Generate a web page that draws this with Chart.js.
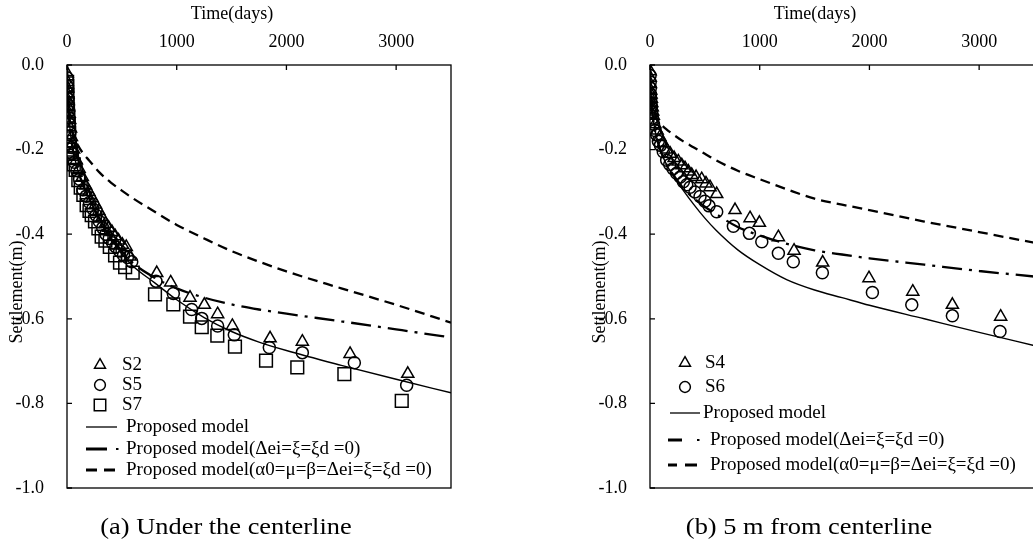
<!DOCTYPE html>
<html>
<head>
<meta charset="utf-8">
<script src="https://cdn.jsdelivr.net/npm/chart.js@4.4.1/dist/chart.umd.min.js"></script>
<style>
  html, body { margin: 0; padding: 0; overflow: hidden; background: #fff; }
  body { width: 1033px; height: 542px; position: relative; }
  canvas { position: absolute; top: 0; }
  .cap { position: absolute; top: 526px; font: 24px "Liberation Serif", "Times New Roman", serif; line-height: 1;
         white-space: nowrap; transform: translate(-50%, -50%) scaleX(1.1); color: #000; }
</style>
</head>
<body>
<canvas id="chart-a" width="520" height="542" style="left:0px"></canvas>
<canvas id="chart-b" width="520" height="542" style="left:583px"></canvas>
<div class="cap" style="left:226px">(a) Under the centerline</div>
<div class="cap" style="left:809px">(b) 5 m from centerline</div>
<script>
const FONT = '"Liberation Serif", "Times New Roman", serif';

// axis ticks
const xTickValues = [0, 1000, 2000, 3000];
const xTickLabels = ['0', '1000', '2000', '3000'];
const yTickValues = [0, -0.2, -0.4, -0.6, -0.8, -1.0];
const yTickLabels = ['0.0', '-0.2', '-0.4', '-0.6', '-0.8', '-1.0'];

// (a) under the centerline - measured
const s2Days = [1, 3, 5, 8, 11, 15, 20, 25, 32, 40, 50, 60, 85, 110, 140, 170, 200, 230, 260, 290, 320, 350, 380, 410, 440, 470, 505, 540, 575, 818, 945, 1121, 1252, 1373, 1507, 1851, 2145, 2580, 3106];
const s2Settle = [-0.02, -0.04, -0.055, -0.07, -0.085, -0.10, -0.115, -0.13, -0.15, -0.17, -0.185, -0.20, -0.225, -0.245, -0.265, -0.285, -0.30, -0.315, -0.33, -0.345, -0.36, -0.375, -0.385, -0.395, -0.405, -0.415, -0.425, -0.43, -0.453, -0.492, -0.514, -0.55, -0.567, -0.589, -0.617, -0.646, -0.654, -0.683, -0.73];
const s5Days = [1, 2, 4, 6, 9, 12, 16, 20, 26, 32, 40, 48, 68, 90, 115, 145, 175, 205, 235, 265, 295, 325, 355, 385, 415, 445, 480, 515, 550, 590, 811, 969, 1136, 1228, 1373, 1525, 1844, 2145, 2619, 3096];
const s5Settle = [-0.03, -0.05, -0.065, -0.08, -0.095, -0.11, -0.125, -0.14, -0.16, -0.18, -0.195, -0.21, -0.23, -0.25, -0.27, -0.295, -0.31, -0.325, -0.34, -0.355, -0.37, -0.385, -0.40, -0.41, -0.42, -0.43, -0.44, -0.45, -0.455, -0.465, -0.511, -0.54, -0.578, -0.599, -0.617, -0.638, -0.668, -0.68, -0.704, -0.757];
const s7Days = [1, 2, 4, 6, 9, 12, 16, 20, 27, 35, 45, 62, 79, 103, 125, 149, 179, 205, 225, 255, 286, 316, 350, 390, 438, 483, 530, 599, 802, 969, 1121, 1228, 1370, 1531, 1814, 2099, 2528, 3051];
const s7Settle = [-0.04, -0.05, -0.07, -0.09, -0.105, -0.12, -0.14, -0.16, -0.20, -0.21, -0.22, -0.235, -0.248, -0.272, -0.29, -0.307, -0.331, -0.345, -0.355, -0.37, -0.386, -0.406, -0.415, -0.43, -0.45, -0.467, -0.478, -0.491, -0.542, -0.566, -0.595, -0.62, -0.64, -0.666, -0.699, -0.715, -0.731, -0.794];

// model curves, same day grid for both panels
const modelDays = [0, 3, 10, 25, 50, 100, 150, 200, 300, 400, 500, 600, 800, 1000, 1250, 1500, 1750, 2000, 2500, 3000, 3500];
const aModel = [0, -0.05, -0.09, -0.145, -0.195, -0.25, -0.285, -0.315, -0.365, -0.41, -0.447, -0.475, -0.515, -0.555, -0.597, -0.63, -0.655, -0.675, -0.71, -0.743, -0.775];
const aModelNoDamage = [0, -0.05, -0.09, -0.145, -0.195, -0.25, -0.285, -0.315, -0.365, -0.405, -0.44, -0.468, -0.503, -0.528, -0.55, -0.566, -0.578, -0.588, -0.606, -0.625, -0.644];
const aModelBasic = [0, -0.05, -0.09, -0.13, -0.16, -0.19, -0.21, -0.225, -0.255, -0.278, -0.297, -0.315, -0.347, -0.378, -0.41, -0.44, -0.465, -0.488, -0.528, -0.567, -0.609];

// (b) 5 m from centerline - measured
const s4Days = [1, 2, 4, 6, 9, 12, 16, 20, 25, 30, 45, 65, 90, 120, 150, 185, 220, 258, 290, 319, 350, 380, 420, 471, 510, 547, 608, 775, 912, 997, 1170, 1313, 1574, 1996, 2395, 2756, 3196];
const s4Settle = [-0.015, -0.03, -0.045, -0.06, -0.07, -0.08, -0.09, -0.10, -0.11, -0.12, -0.14, -0.155, -0.17, -0.185, -0.20, -0.21, -0.22, -0.228, -0.237, -0.244, -0.252, -0.26, -0.265, -0.27, -0.28, -0.289, -0.305, -0.343, -0.362, -0.373, -0.407, -0.439, -0.467, -0.504, -0.536, -0.567, -0.595];
const s6Days = [1, 2, 3, 5, 7, 10, 13, 16, 23, 32, 46, 61, 76, 95, 121, 152, 180, 210, 243, 276, 304, 335, 365, 410, 456, 500, 538, 608, 760, 906, 1019, 1170, 1306, 1571, 2027, 2386, 2756, 3190];
const s6Settle = [-0.025, -0.04, -0.055, -0.07, -0.08, -0.09, -0.10, -0.11, -0.125, -0.14, -0.155, -0.165, -0.18, -0.19, -0.205, -0.225, -0.235, -0.245, -0.256, -0.265, -0.276, -0.283, -0.289, -0.30, -0.311, -0.322, -0.333, -0.347, -0.381, -0.398, -0.418, -0.445, -0.465, -0.491, -0.538, -0.567, -0.593, -0.63];

const bModel = [0, -0.04, -0.08, -0.12, -0.16, -0.205, -0.235, -0.257, -0.295, -0.33, -0.362, -0.39, -0.437, -0.472, -0.508, -0.532, -0.55, -0.568, -0.60, -0.632, -0.663];
const bModelNoDamage = [0, -0.04, -0.08, -0.12, -0.16, -0.205, -0.235, -0.255, -0.29, -0.315, -0.335, -0.352, -0.383, -0.403, -0.423, -0.438, -0.448, -0.457, -0.472, -0.487, -0.50];
const bModelBasic = [0, -0.04, -0.07, -0.10, -0.12, -0.14, -0.152, -0.162, -0.18, -0.195, -0.21, -0.225, -0.25, -0.27, -0.294, -0.316, -0.33, -0.343, -0.37, -0.395, -0.42];

const DASHDOT = [20, 7, 3, 7];
const DASHED = [10, 6];

function pts(days, settle) {
  return days.map((d, i) => ({ x: d, y: settle[i] }));
}

function markerSet(label, days, settle, style, r) {
  return {
    label: label, data: pts(days, settle), showLine: false,
    pointStyle: style, pointRadius: r, pointHoverRadius: r,
    pointBorderWidth: 1.5, pointBorderColor: '#000', pointBackgroundColor: 'rgba(0,0,0,0)'
  };
}

function curveSet(label, days, settle, width, dash) {
  return {
    label: label, data: pts(days, settle), showLine: true, pointRadius: 0,
    borderColor: '#000', borderWidth: width, borderDash: dash,
    cubicInterpolationMode: 'monotone', fill: false
  };
}

function drawMarker(ctx, style, x, y, r) {
  ctx.beginPath();
  if (style === 'circle') {
    ctx.arc(x, y, r, 0, Math.PI * 2);
  } else if (style === 'triangle') {
    ctx.moveTo(x, y - r);
    ctx.lineTo(x + r * 0.866, y + r * 0.5);
    ctx.lineTo(x - r * 0.866, y + r * 0.5);
    ctx.closePath();
  } else {
    let h = r * Math.SQRT1_2;
    ctx.rect(x - h, y - h, 2 * h, 2 * h);
  }
  ctx.stroke();
}

// frame, inward ticks, axis titles and the legend inside the plot
const paperFrame = {
  id: 'paperFrame',
  afterDraw(chart, args, o) {
    const ctx = chart.ctx, a = chart.chartArea;
    const xs = chart.scales.x, ys = chart.scales.y;
    ctx.save();
    ctx.strokeStyle = '#000';
    ctx.fillStyle = '#000';
    ctx.lineWidth = 1.3;
    ctx.setLineDash([]);
    ctx.strokeRect(a.left, a.top, a.right - a.left, a.bottom - a.top);
    ctx.beginPath();
    xs.ticks.forEach(t => {
      let p = xs.getPixelForValue(t.value);
      ctx.moveTo(p, a.top); ctx.lineTo(p, a.top + 5);
    });
    ys.ticks.forEach(t => {
      let p = ys.getPixelForValue(t.value);
      ctx.moveTo(a.left, p); ctx.lineTo(a.left + 5, p);
    });
    ctx.stroke();

    ctx.font = '18px ' + FONT;
    ctx.textAlign = 'center';
    ctx.textBaseline = 'middle';
    ctx.fillText(o.xTitle, a.left + 165, 14);
    ctx.save();
    ctx.translate(a.left - 50, 292);
    ctx.rotate(-Math.PI / 2);
    ctx.fillText(o.yTitle, 0, 0);
    ctx.restore();

    // legend
    ctx.font = '19px ' + FONT;
    ctx.textAlign = 'left';
    o.legend.forEach(item => {
      let ds = chart.data.datasets[item.ds];
      ctx.lineWidth = 1.5;
      if (item.segs) {
        item.segs.forEach(sg => {
          ctx.beginPath();
          ctx.lineWidth = sg[2];
          ctx.moveTo(sg[0], item.y); ctx.lineTo(sg[1], item.y);
          ctx.stroke();
        });
      } else {
        drawMarker(ctx, ds.pointStyle, item.x, item.y, ds.pointRadius * 0.9);
      }
      ctx.fillText(ds.label, item.tx, item.y);
    });
    ctx.restore();
  }
};

function makeChart(id, datasets, legend) {
  return new Chart(document.getElementById(id), {
    type: 'scatter',
    data: { datasets: datasets },
    options: {
      responsive: false,
      animation: false,
      devicePixelRatio: 1,
      events: [],
      layout: { autoPadding: false, padding: { left: 0, top: 0, right: 69, bottom: 54 } },
      plugins: {
        legend: { display: false },
        tooltip: { enabled: false },
        paperFrame: { xTitle: 'Time(days)', yTitle: 'Settlement(m)', legend: legend }
      },
      scales: {
        x: {
          type: 'linear', position: 'top', min: 0, max: 3500,
          grid: { display: false, drawTicks: false },
          border: { display: false },
          afterBuildTicks: s => { s.ticks = xTickValues.map(v => ({ value: v })); },
          afterFit: s => { s.height = 65; },
          ticks: { padding: 12, color: '#000', font: { family: FONT, size: 18 }, autoSkip: false, maxRotation: 0,
                   callback: (v, i) => xTickLabels[i] }
        },
        y: {
          type: 'linear', position: 'left', min: -1, max: 0,
          grid: { display: false, drawTicks: false },
          border: { display: false },
          afterBuildTicks: s => { s.ticks = yTickValues.map(v => ({ value: v })); },
          afterFit: s => { s.width = 67; },
          ticks: { padding: 23, color: '#000', font: { family: FONT, size: 18 }, autoSkip: false,
                   callback: (v, i) => yTickLabels[i] }
        }
      }
    },
    plugins: [paperFrame]
  });
}

makeChart('chart-a', [
  markerSet('S2', s2Days, s2Settle, 'triangle', 7),
  markerSet('S5', s5Days, s5Settle, 'circle', 6),
  markerSet('S7', s7Days, s7Settle, 'rect', 9),
  curveSet('Proposed model', modelDays, aModel, 1.4, []),
  curveSet('Proposed model(\u0394ei=\u03be=\u03bed =0)', modelDays, aModelNoDamage, 2.3, DASHDOT),
  curveSet('Proposed model(\u03b10=\u03bc=\u03b2=\u0394ei=\u03be=\u03bed =0)', modelDays, aModelBasic, 2.3, DASHED)
], [
  { ds: 0, x: 100, y: 365, tx: 122 },
  { ds: 1, x: 100, y: 385, tx: 122 },
  { ds: 2, x: 100, y: 405, tx: 122 },
  { ds: 3, y: 427, tx: 126, segs: [[86, 117, 1.3]] },
  { ds: 4, y: 449, tx: 126, segs: [[86, 107, 3], [116, 118.5, 2]] },
  { ds: 5, y: 470, tx: 126, segs: [[86, 97, 3], [104, 115, 3]] }
]);

makeChart('chart-b', [
  markerSet('S4', s4Days, s4Settle, 'triangle', 7),
  markerSet('S6', s6Days, s6Settle, 'circle', 6),
  curveSet('Proposed model', modelDays, bModel, 1.4, []),
  curveSet('Proposed model(\u0394ei=\u03be=\u03bed =0)', modelDays, bModelNoDamage, 2.3, DASHDOT),
  curveSet('Proposed model(\u03b10=\u03bc=\u03b2=\u0394ei=\u03be=\u03bed =0)', modelDays, bModelBasic, 2.3, DASHED)
], [
  { ds: 0, x: 102, y: 363, tx: 122 },
  { ds: 1, x: 102, y: 387, tx: 122 },
  { ds: 2, y: 413, tx: 120, segs: [[87, 117, 1.3]] },
  { ds: 3, y: 440, tx: 127, segs: [[85, 99, 3], [114, 116.5, 2]] },
  { ds: 4, y: 465, tx: 127, segs: [[85, 94, 3], [102, 114, 3]] }
]);
</script>
</body>
</html>
